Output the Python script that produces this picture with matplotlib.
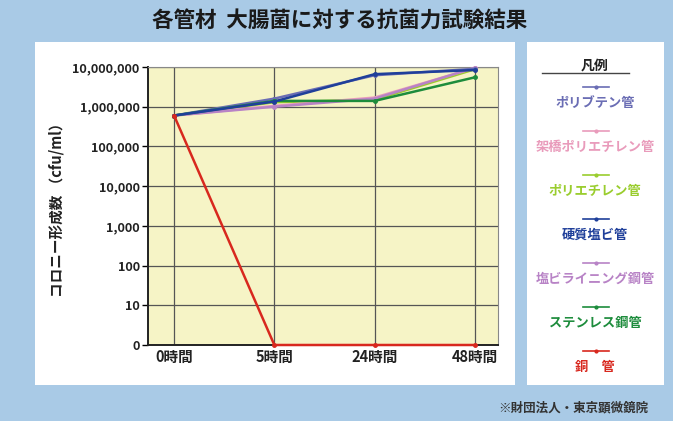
import numpy as np
import matplotlib
matplotlib.use('Agg')
import matplotlib.pyplot as plt
from matplotlib.patches import Rectangle

plt.rcParams['font.family'] = ['Noto Sans CJK JP', 'DejaVu Sans']

times = ['0時間', '5時間', '24時間', '48時間']
series_names = ['ポリブテン管', '架橋ポリエチレン管', 'ポリエチレン管', '硬質塩ビ管',
                '塩ビライニング鋼管', 'ステンレス鋼管', '銅　管']
polybutene = [600000, 1600000, 6200000, 9000000]
pex = [600000, 1050000, 1700000, 9500000]
polyethylene = [600000, 1300000, 1500000, 8800000]
pvc = [600000, 1350000, 6600000, 8400000]
pvc_lined = [600000, 1000000, 1600000, 9600000]
stainless = [600000, 1400000, 1400000, 5500000]
copper = [600000, 0, 0, 0]
colors = ['#6a6db4', '#e99bbb', '#9acd2e', '#1f3f9a', '#b883c6', '#1d8c3c', '#d8281e']
yticks = [1, 10, 100, 1000, 10000, 100000, 1000000, 10000000]
ytick_labels = ['0', '10', '100', '1,000', '10,000', '100,000', '1,000,000', '10,000,000']

W, H = 673, 421
fig = plt.figure(figsize=(W / 100, H / 100), dpi=100)
fig.patch.set_facecolor('#a9cae6')

# white panels
fig.patches.append(Rectangle((35 / W, 1 - 385 / H), (515 - 35) / W, (385 - 42) / H,
                             transform=fig.transFigure, facecolor='white', edgecolor='none', zorder=-5))
fig.patches.append(Rectangle((527 / W, 1 - 385 / H), (664 - 527) / W, (385 - 42) / H,
                             transform=fig.transFigure, facecolor='white', edgecolor='none', zorder=-5))

fig.text(340 / W, 1 - 20 / H, '各管材  大腸菌に対する抗菌力試験結果', ha='center', va='center',
         fontsize=15.5, fontweight='bold', color='#1a1a1a')

ax = fig.add_axes([148 / W, 1 - 345 / H, (498 - 148) / W, (345 - 67) / H])
ax.set_zorder(2)
ax.set_facecolor('#f6f4c6')
x = np.arange(len(times))
data = [polybutene, pex, polyethylene, pvc, pvc_lined, stainless, copper]
order = [2, 1, 4, 0, 5, 3, 6]
for i in order:
    vals = np.maximum(np.array(data[i], dtype=float), 1)
    ax.plot(x, vals, color=colors[i], lw=1.8, marker='o', ms=2.5, zorder=3, clip_on=False)

ax.set_yscale('log')
ax.set_ylim(1, 1e7)
ax.set_xlim(-0.26, 3.23)
ax.set_yticks(yticks)
ax.set_yticklabels(ytick_labels)
ax.minorticks_off()
ax.set_xticks(x)
ax.set_xticklabels(times)
ax.grid(True, color='#555555', lw=0.9)
ax.set_axisbelow(True)
for s in ['top', 'right']:
    ax.spines[s].set_color('#888888')
    ax.spines[s].set_linewidth(0.8)
for s in ['left', 'bottom']:
    ax.spines[s].set_color('#222222')
    ax.spines[s].set_linewidth(1.4)
ax.tick_params(axis='y', length=4, width=1, labelsize=9.2, pad=2)
ax.tick_params(axis='x', length=0, labelsize=10.5, pad=3)
for lab in ax.get_xticklabels() + ax.get_yticklabels():
    lab.set_fontweight('bold')
    lab.set_color('#222222')
ax.set_ylabel('コロニー形成数 （cfu/ml）', fontsize=10.5, fontweight='bold', labelpad=6, color='#222222')

# legend panel
lx = 595 / W
fig.text(lx, 1 - 66 / H, '凡例', ha='center', va='center', fontsize=10, fontweight='bold', color='#222222')
fig.add_artist(plt.Line2D([542 / W, 629 / W], [1 - 73 / H] * 2, transform=fig.transFigure,
                          color='#444444', lw=1))
for k, name in enumerate(series_names):
    ly = 87 + 44 * k
    fig.add_artist(plt.Line2D([583 / W, 609 / W], [1 - ly / H] * 2, transform=fig.transFigure,
                              color=colors[k], lw=1.2))
    fig.add_artist(plt.Line2D([596 / W], [1 - ly / H], transform=fig.transFigure,
                              color=colors[k], marker='o', ms=2))
    fig.text(lx, 1 - (ly + 16) / H, name, ha='center', va='center', fontsize=9.5,
             fontweight='bold', color=colors[k])

fig.text(648 / W, 1 - 408 / H, '※財団法人・東京顕微鏡院', ha='right', va='center',
         fontsize=9, fontweight='bold', color='#333333')

fig.savefig('out.png', dpi=100)
